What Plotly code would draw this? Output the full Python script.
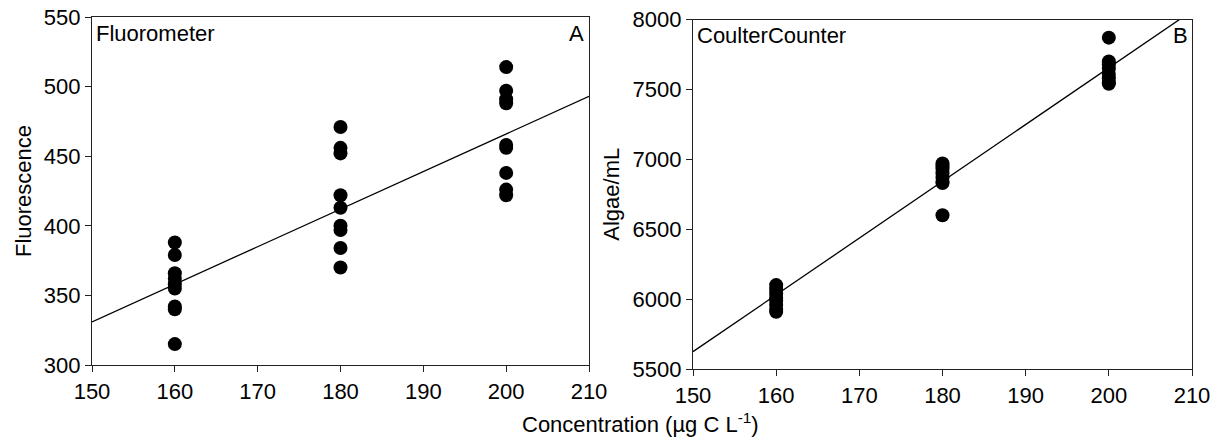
import plotly.graph_objects as go

# ---- data ----
fluor_x = [160]*9 + [180]*9 + [200]*9
fluor_y = [388, 379, 366, 362, 358, 355, 342, 340, 315,
           471, 456, 452, 422, 413, 400, 397, 384, 370,
           514, 497, 491, 488, 458, 456, 438, 426, 422]
fluor_line_x = [150, 210]
fluor_line_y = [331, 493]

coulter_x = [160]*8 + [180]*8 + [200]*8
coulter_y = [6100, 6070, 6040, 6010, 5990, 5960, 5930, 5910,
             6970, 6950, 6930, 6900, 6870, 6840, 6830, 6600,
             7870, 7700, 7680, 7650, 7610, 7580, 7550, 7540]
coulter_line_x = [150, 210]
coulter_line_y = [5624, 8061]

x_ticks = [150, 160, 170, 180, 190, 200, 210]
fluor_ticks = [300, 350, 400, 450, 500, 550]
coulter_ticks = [5500, 6000, 6500, 7000, 7500, 8000]

FONT = "Liberation Sans, Arial, sans-serif"
FS = 22
W, H = 1220, 441

fig = go.Figure()
fig.add_trace(go.Scatter(x=fluor_line_x, y=fluor_line_y, mode="lines",
                         line=dict(color="black", width=1.3), xaxis="x", yaxis="y",
                         showlegend=False, hoverinfo="skip"))
fig.add_trace(go.Scatter(x=fluor_x, y=fluor_y, mode="markers",
                         marker=dict(color="black", size=14), xaxis="x", yaxis="y",
                         showlegend=False))
fig.add_trace(go.Scatter(x=coulter_line_x, y=coulter_line_y, mode="lines",
                         line=dict(color="black", width=1.3), xaxis="x2", yaxis="y2",
                         showlegend=False, hoverinfo="skip", cliponaxis=True))
fig.add_trace(go.Scatter(x=coulter_x, y=coulter_y, mode="markers",
                         marker=dict(color="black", size=14), xaxis="x2", yaxis="y2",
                         showlegend=False))

def px_x(p):
    return p / W

def px_y(p):
    return 1 - p / H

axis_common = dict(showgrid=False, zeroline=False, showline=True, linecolor="#222",
                   linewidth=1.2, mirror=True, ticks="outside", ticklen=6,
                   tickcolor="#222", automargin=False,
                   tickfont=dict(family=FONT, size=FS, color="black"))

fig.update_layout(
    width=W, height=H,
    margin=dict(l=0, r=0, t=0, b=0, autoexpand=False),
    paper_bgcolor="white", plot_bgcolor="white",
    font=dict(family=FONT, size=FS, color="black"),
    xaxis=dict(domain=[px_x(92), px_x(589)], range=[150, 210], tickvals=x_ticks,
               anchor="y", **axis_common),
    yaxis=dict(domain=[px_y(365), px_y(17)], range=[300, 550], tickvals=fluor_ticks,
               anchor="x", title=dict(text="Fluorescence", standoff=6,
                                      font=dict(family=FONT, size=FS)), **axis_common),
    xaxis2=dict(domain=[px_x(693), px_x(1192)], range=[150, 210], tickvals=x_ticks,
                anchor="y2", **axis_common),
    yaxis2=dict(domain=[px_y(369), px_y(19.5)], range=[5500, 8000], tickvals=coulter_ticks,
                anchor="x2", title=dict(text="Algae/mL", standoff=6,
                                        font=dict(family=FONT, size=FS)), **axis_common),
)

fig.add_annotation(text="Fluorometer", xref="paper", yref="paper",
                   x=px_x(94), y=px_y(19), xanchor="left", yanchor="top",
                   showarrow=False, font=dict(family=FONT, size=FS))
fig.add_annotation(text="A", xref="paper", yref="paper",
                   x=px_x(586), y=px_y(19), xanchor="right", yanchor="top",
                   showarrow=False, font=dict(family=FONT, size=FS))
fig.add_annotation(text="CoulterCounter", xref="paper", yref="paper",
                   x=px_x(695), y=px_y(21), xanchor="left", yanchor="top",
                   showarrow=False, font=dict(family=FONT, size=FS))
fig.add_annotation(text="B", xref="paper", yref="paper",
                   x=px_x(1190), y=px_y(21), xanchor="right", yanchor="top",
                   showarrow=False, font=dict(family=FONT, size=FS))
fig.add_annotation(text="Concentration (µg C L<sup>-1</sup>)", xref="paper", yref="paper",
                   x=px_x(640), y=px_y(423), xanchor="center", yanchor="middle",
                   showarrow=False, font=dict(family=FONT, size=FS))

fig.write_html("out.html")
